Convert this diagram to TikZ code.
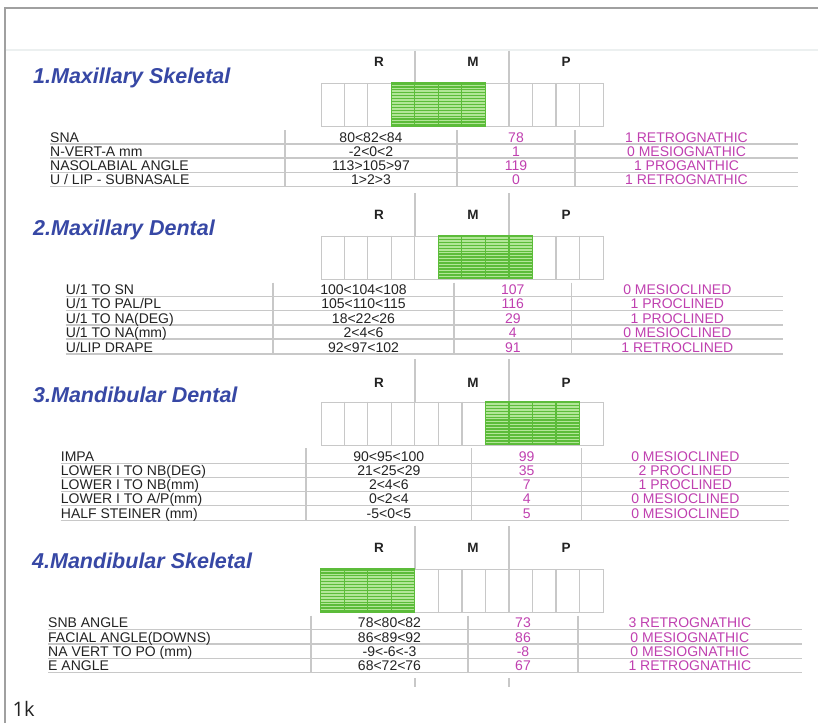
\documentclass[tikz,border=0pt]{standalone}
\usepackage{fontspec}
\setmainfont{Liberation Sans}
\newfontfamily\figfont{Open Sans}
\definecolor{gridc}{RGB}{200,200,200}
\definecolor{framec}{RGB}{160,160,160}
\definecolor{faintc}{RGB}{236,240,240}
\definecolor{ttl}{RGB}{55,72,165}
\definecolor{mag}{RGB}{192,64,176}
\definecolor{gfill}{RGB}{178,230,152}
\definecolor{gline}{RGB}{92,188,58}
\definecolor{txt}{RGB}{35,35,35}
\tikzset{
  tline/.style={draw=gridc,line width=1.3},
  lbl/.style={inner sep=0,font=\fontsize{14}{14}\selectfont,text=txt},
  val/.style={lbl,text=mag},
  ttlstyle/.style={inner sep=0,anchor=base west,font=\fontsize{21.5}{22}\selectfont\bfseries\itshape,text=ttl},
  hdr/.style={inner sep=0,font=\fontsize{13.5}{14}\selectfont\bfseries,text=txt},
  boxstyle/.style={draw=gridc,line width=1.3,inner sep=0,minimum width=282.3,minimum height=43,anchor=north west},
}
% #1 name, #2 header y, #3 box top, #4 first green cell, #5 separator top
\newcommand{\gridsec}[5]{%
  \node[hdr] (#1R) at (379,#2) {R};
  \node[hdr] (#1M) at (473,#2) {M};
  \node[hdr] (#1P) at (566,#2) {P};
  \draw[tline] (415,#5) -- (415,#3);
  \draw[tline] (509,#5) -- (509,#3);
  \node[boxstyle] (#1box) at (320.7,#3) {};
  \foreach \c in {1,...,11} {\draw[tline] ({320.7+\c*23.525},#3) -- ++(0,43);}
  \pgfmathsetmacro\gxa{320.7+(#4-1)*23.525}
  \pgfmathsetmacro\gxb{\gxa+4*23.525}
  \fill[gfill] (\gxa,#3) rectangle (\gxb,#3+43);
  \foreach \k in {0,...,14} {\draw[gline,line width=1.5] (\gxa,#3+0.8+\k*2.95) -- (\gxb,#3+0.8+\k*2.95);}
  \foreach \c in {1,2,3} {\draw[gline,line width=1.2] ({\gxa+\c*23.525},#3) -- ++(0,43);}
  \draw[gline,line width=1.3] (\gxa,#3) rectangle (\gxb,#3+43);
}
\newcommand{\settab}[5]{\def\TL{#1}\def\TA{#2}\def\TB{#3}\def\TC{#4}\def\TR{#5}}
\newcommand{\trow}[6]{%
  \draw[tline] (\TL,#2) -- (\TR,#2);
  \node[lbl,anchor=base west] (#1a) at (\TL,#2-1.8) {#3};
  \node[lbl,anchor=base] (#1b) at ({(\TA+\TB)/2},#2-1.8) {#4};
  \node[val,anchor=base] (#1c) at ({(\TB+\TC)/2},#2-1.8) {#5};
  \node[val,anchor=base] (#1d) at ({(\TC+\TR)/2},#2-1.8) {#6};
}
\newcommand{\tcols}[2]{%
  \draw[tline] (\TA,#1) -- (\TA,#2);
  \draw[tline] (\TB,#1) -- (\TB,#2);
  \draw[tline] (\TC,#1) -- (\TC,#2);
}
\begin{document}
\begin{tikzpicture}[x=1pt,y=-1pt]
\useasboundingbox (0,0) rectangle (818,723);
\fill[white] (0,0) rectangle (818,723);
% frame
\draw[framec,line width=1.2] (5,723) -- (5,8) -- (818,8);
\draw[faintc,line width=1.5] (5.6,50) -- (818,50);

% ---- Section 1
\node[ttlstyle] (t1) at (33,83.3) {1.Maxillary Skeletal};
\gridsec{s1}{62}{83}{4}{50.8}
\settab{50}{285}{457}{575}{798}
\tcols{130}{186.7}
\trow{s1r1}{144}{SNA}{80<82<84}{78}{1 RETROGNATHIC}
\trow{s1r2}{158}{N-VERT-A mm}{-2<0<2}{1}{0 MESIOGNATHIC}
\trow{s1r3}{172.5}{NASOLABIAL ANGLE}{113>105>97}{119}{1 PROGANTHIC}
\trow{s1r4}{186.7}{U / LIP - SUBNASALE}{1>2>3}{0}{1 RETROGNATHIC}

% ---- Section 2
\node[ttlstyle] (t2) at (33,235) {2.Maxillary Dental};
\gridsec{s2}{215}{235.7}{6}{193}
\settab{65.7}{273}{454}{571.7}{783}
\tcols{282.7}{354}
\trow{s2r1}{296.7}{U/1 TO SN}{100<104<108}{107}{0 MESIOCLINED}
\trow{s2r2}{310.7}{U/1 TO PAL/PL}{105<110<115}{116}{1 PROCLINED}
\trow{s2r3}{325}{U/1 TO NA(DEG)}{18<22<26}{29}{1 PROCLINED}
\trow{s2r4}{339}{U/1 TO NA(mm)}{2<4<6}{4}{0 MESIOCLINED}
\trow{s2r5}{354}{U/LIP DRAPE}{92<97<102}{91}{1 RETROCLINED}

% ---- Section 3
\node[ttlstyle] (t3) at (33,402.7) {3.Mandibular Dental};
\gridsec{s3}{382.7}{401.7}{8}{359}
\settab{60.7}{306}{471.7}{581.7}{789}
\tcols{448}{520.7}
\trow{s3r1}{463.3}{IMPA}{90<95<100}{99}{0 MESIOCLINED}
\trow{s3r2}{477.3}{LOWER I TO NB(DEG)}{21<25<29}{35}{2 PROCLINED}
\trow{s3r3}{491.7}{LOWER I TO NB(mm)}{2<4<6}{7}{1 PROCLINED}
\trow{s3r4}{505.7}{LOWER I TO A/P(mm)}{0<2<4}{4}{0 MESIOCLINED}
\trow{s3r5}{520.7}{HALF STEINER (mm)}{-5<0<5}{5}{0 MESIOCLINED}

% ---- Section 4
\node[ttlstyle] (t4) at (32,568.3) {4.Mandibular Skeletal};
\gridsec{s4}{548}{569}{1}{526}
\settab{48}{311}{468}{578}{801.7}
\tcols{615.7}{672.7}
\trow{s4r1}{629.3}{SNB ANGLE}{78<80<82}{73}{3 RETROGNATHIC}
\trow{s4r2}{644}{FACIAL ANGLE(DOWNS)}{86<89<92}{86}{0 MESIOGNATHIC}
\trow{s4r3}{658.3}{NA VERT TO PO (mm)}{-9<-6<-3}{-8}{0 MESIOGNATHIC}
\trow{s4r4}{672.7}{E ANGLE}{68<72<76}{67}{1 RETROGNATHIC}

% trailing stubs
\coordinate (stubA) at (415,678);
\coordinate (stubB) at (509,678);
\draw[tline] (stubA) -- ++(0,9);
\draw[tline] (stubB) -- ++(0,9);

\node[inner sep=0,anchor=base west,font=\figfont\fontsize{20}{20}\selectfont,text=txt] (fig) at (12.5,716.7) {1k};
\end{tikzpicture}
\end{document}
